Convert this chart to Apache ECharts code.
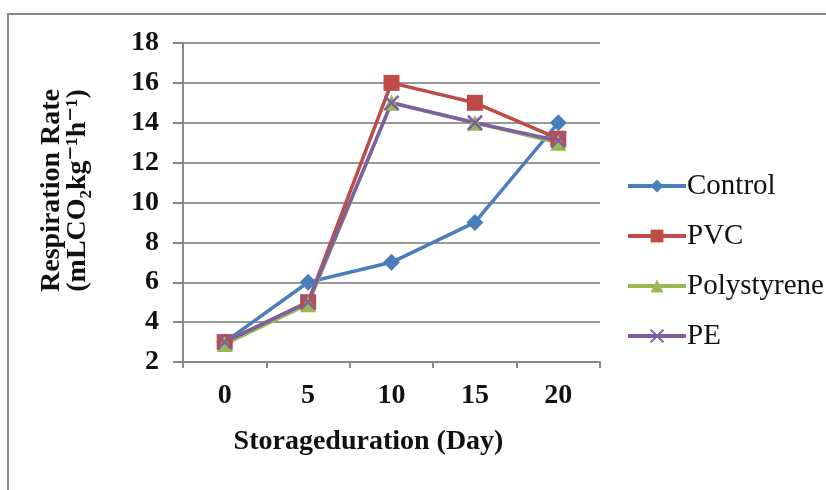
<!DOCTYPE html>
<html>
<head>
<meta charset="utf-8">
<script src="https://cdn.jsdelivr.net/npm/echarts@6/dist/echarts.min.js"></script>
<style>
html,body{margin:0;padding:0;background:#fff;}
#chart{width:826px;height:490px;}
</style>
</head>
<body>
<div id="chart"></div>
<script>
var categories = ['0', '5', '10', '15', '20'];
var controlValues = [3, 6, 7, 9, 14];
var pvcValues = [3, 5, 16, 15, 13.2];
var polystyreneValues = [2.9, 4.9, 15, 14, 13];
var peValues = [3, 5, 15, 14, 13.1];
var seriesNames = ['Control', 'PVC', 'Polystyrene', 'PE'];
var yTitle = 'Respiration Rate\n(mLCO\u2082kg\u207B\u00B9h\u207B\u00B9)';
var xTitle = 'Storageduration (Day)';

var chart = echarts.init(document.getElementById('chart'), null, {renderer: 'canvas'});
var serif = '"Liberation Serif", "DejaVu Serif", serif';
var xMarker = 'path://M0,0L10,10M10,0L0,10';

function mk(name, data, color, symbol, size, extra) {
  var s = {
    name: name, type: 'line', data: data,
    symbol: symbol, symbolSize: size,
    lineStyle: {color: color, width: 3.5},
    itemStyle: {color: color},
    z: 3
  };
  if (extra) Object.assign(s.itemStyle, extra);
  return s;
}

chart.setOption({
  animation: false,
  backgroundColor: '#fff',
  graphic: [{
    type: 'rect', shape: {x: 8, y: 14, width: 900, height: 600},
    style: {fill: 'none', stroke: '#8a8a8a', lineWidth: 2}, z: -1
  }],
  grid: {left: 183, right: 226, top: 43, bottom: 128},
  legend: {
    orient: 'vertical', left: 621, top: 166, itemGap: 20,
    itemWidth: 58, itemHeight: 16,
    lineStyle: {width: 4},
    textStyle: {fontFamily: serif, fontSize: 29, color: '#111', lineHeight: 30, padding: [0,0,0,-4]},
    data: seriesNames
  },
  xAxis: {
    type: 'category', data: categories, boundaryGap: true,
    axisLine: {lineStyle: {color: '#888', width: 2}},
    axisTick: {show: true, length: 6, lineStyle: {color: '#888', width: 2}},
    axisLabel: {fontFamily: serif, fontWeight: 'bold', fontSize: 28, color: '#111', margin: 20},
    name: xTitle, nameLocation: 'middle', nameGap: 66,
    nameTextStyle: {fontFamily: serif, fontWeight: 'bold', fontSize: 28, color: '#111', padding: [0, 46, 0, 0]}
  },
  yAxis: {
    type: 'value', min: 2, max: 18, interval: 2,
    axisLine: {show: true, lineStyle: {color: '#888', width: 2}},
    axisTick: {show: true, length: 10, lineStyle: {color: '#888', width: 2}},
    splitLine: {lineStyle: {color: '#999', width: 2}},
    axisLabel: {fontFamily: serif, fontWeight: 'bold', fontSize: 28, color: '#111', margin: 24},
    name: yTitle, nameLocation: 'middle', nameGap: 92, nameRotate: 90,
    nameTextStyle: {fontFamily: serif, fontWeight: 'bold', fontSize: 28, color: '#111', lineHeight: 26, padding: [0, 0, 0, 24]}
  },
  series: [
    mk('Control', controlValues, '#4A7EBB', 'diamond', 17),
    mk('PVC', pvcValues, '#BE4B48', 'rect', 16),
    mk('Polystyrene', polystyreneValues, '#98B954', 'triangle', 16),
    mk('PE', peValues, '#7D60A0', xMarker, 14, {borderColor: '#7D60A0', borderWidth: 2.5})
  ]
});
</script>
</body>
</html>
